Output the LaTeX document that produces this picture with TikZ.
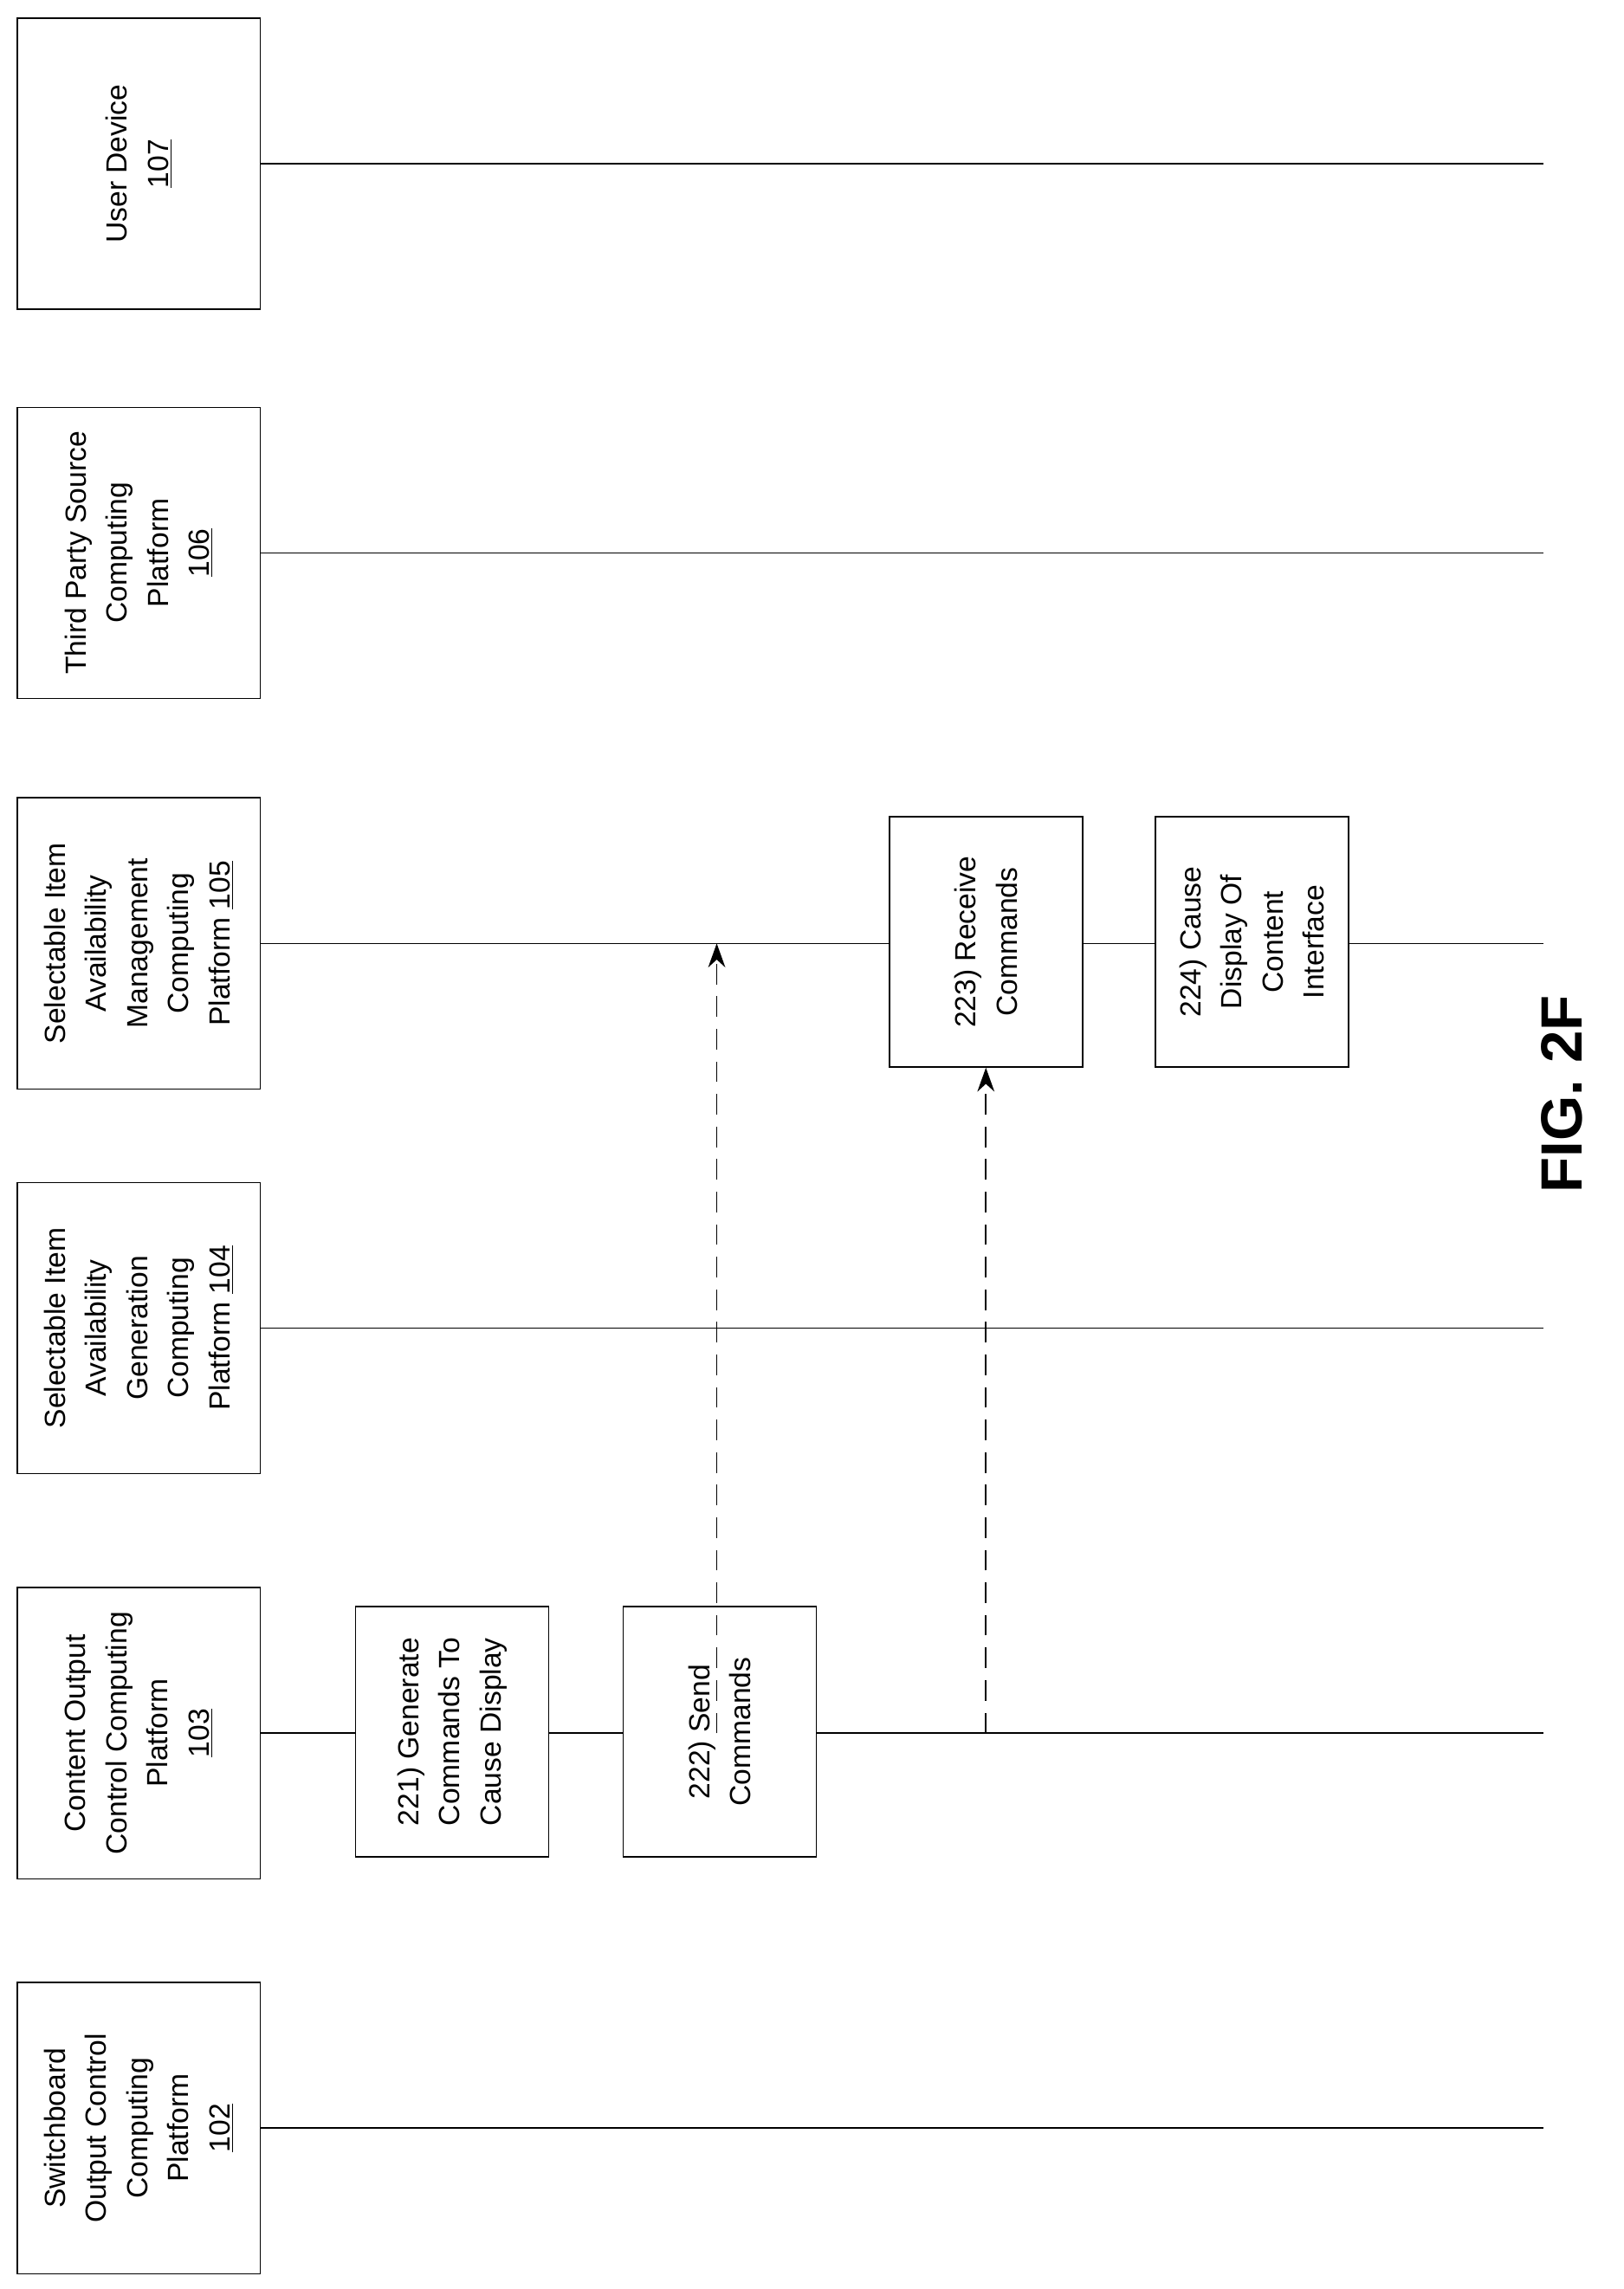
\documentclass[tikz,border=0pt]{standalone}
\usepackage{fontspec}
\setmainfont{Liberation Sans}
\usetikzlibrary{arrows.meta}

\tikzset{
	entity/.style={draw,thick,fill=white,rotate=90,align=center,
		minimum width=5.97cm,minimum height=4.98cm,inner sep=0pt,
		font=\fontsize{17}{24}\selectfont},
	stepbox/.style={draw,thick,fill=white,rotate=90,align=center,
		minimum width=5.13cm,minimum height=3.96cm,inner sep=0pt,
		font=\fontsize{17}{24}\selectfont},
	life/.style={thick},
	msg/.style={thick,dashed,dash pattern=on 12pt off 7pt,-{Stealth[length=14pt,width=10pt]}}
}

\begin{document}
\begin{tikzpicture}[x=0.03cm,y=-0.03cm]
\useasboundingbox (0,0) rectangle (1110,1565);

% lifelines
\foreach \y in {112,378,645,908,1185,1455}
	\draw[life] (178,\y) -- (1055,\y);

% entities
\node[entity] (dev) at (95,112) {User Device\\\underline{107}};
\node[entity] (third) at (95,378) {Third Party Source\\Computing\\Platform\\\underline{106}};
\node[entity] (mgmt) at (95,645) {Selectable Item\\Availability\\Management\\Computing\\Platform \underline{105}};
\node[entity] (gen) at (95,908) {Selectable Item\\Availability\\Generation\\Computing\\Platform \underline{104}};
\node[entity] (cont) at (95,1185) {Content Output\\Control Computing\\Platform\\\underline{103}};
\node[entity] (sw) at (95,1455) {Switchboard\\Output Control\\Computing\\Platform\\\underline{102}};

% steps
\node[stepbox] (s221) at (309,1184) {221) Generate\\Commands To\\Cause Display};
\node[stepbox] (s222) at (492,1184) {222) Send\\Commands};
\node[stepbox] (s223) at (674,644) {223) Receive\\Commands};
\node[stepbox] (s224) at (856,644) {224) Cause\\Display Of\\Content\\Interface};

% messages
\coordinate (m1a) at (490,1185);
\coordinate (m1b) at (490,645);
\coordinate (m2a) at (674,1185);
\draw[msg] (m1a) -- (m1b);
\draw[msg] (m2a) -- (s223.west);

\node[rotate=90,font=\fontsize{34}{40}\selectfont\bfseries] (fig) at (1068,748) {FIG. 2F};
\end{tikzpicture}
\end{document}
